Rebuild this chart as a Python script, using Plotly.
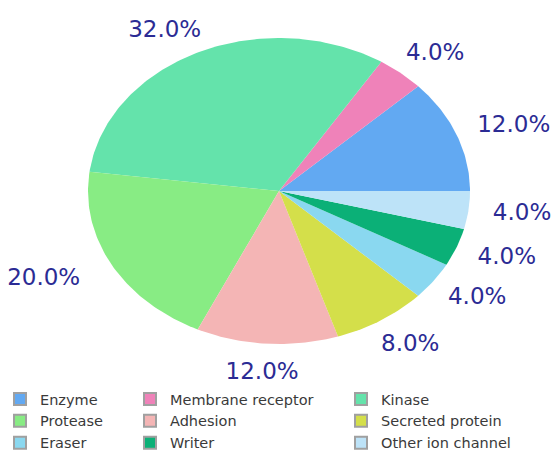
import numpy as np
import plotly.graph_objects as go

categories = ["Enzyme", "Membrane receptor", "Kinase", "Protease", "Adhesion",
              "Secreted protein", "Eraser", "Writer", "Other ion channel"]
percent = [12.0, 4.0, 32.0, 20.0, 12.0, 8.0, 4.0, 4.0, 4.0]
colors = ["#62a9f2", "#ef82b9", "#64e3ab", "#88ec84", "#f4b5b5",
          "#d4df4a", "#8ad8f0", "#0bb077", "#bde3f8"]
# legend column for each category (three column legend, row-major order)
legend_col = ["legend", "legend2", "legend3", "legend", "legend2", "legend3",
              "legend", "legend2", "legend3"]

W, H = 554, 452
CX, CY = 279, 191          # pie centre in pixels
RX, RY = 191, 153          # stretched (elliptical) pie radii
LABEL_COLOR = "#2b2b94"
LABEL_SIZE = 23

fig = go.Figure()

total = sum(percent)
start = 0.0
label_x, label_y, label_t = [], [], []
for name, val, col in zip(categories, percent, colors):
    frac = val / total
    a0 = 2 * np.pi * start
    a1 = 2 * np.pi * (start + frac)
    n = max(int(frac * 400), 8)
    th = np.linspace(a0, a1, n)
    xs = np.concatenate([[0], RX * np.cos(th), [0]])
    ys = np.concatenate([[0], RY * np.sin(th), [0]])
    fig.add_trace(go.Scatter(x=xs, y=ys, mode="lines", fill="toself",
                             fillcolor=col, line=dict(width=0, color=col),
                             hoverinfo="text", text=f"{name}: {val:.1f}%",
                             showlegend=False))
    # outside label
    am = (a0 + a1) / 2
    c, s = np.cos(am), np.sin(am)
    txt = f"{val:.1f}%"
    hw = len(txt) * 7.5
    gx = 24 if c >= 0 else 40
    gy = 24 if s >= 0 else 30
    label_x.append(RX * c + (gx + hw) * c)
    label_y.append(RY * s + gy * s)
    label_t.append(txt)
    start += frac

fig.add_trace(go.Scatter(x=label_x, y=label_y, mode="text", text=label_t,
                         textposition="middle center",
                         textfont=dict(family="DejaVu Sans", size=LABEL_SIZE,
                                       color=LABEL_COLOR),
                         hoverinfo="skip", showlegend=False))

# legend proxies
for name, col, lg in zip(categories, colors, legend_col):
    fig.add_trace(go.Scatter(x=[None], y=[None], mode="markers", name=name,
                             marker=dict(symbol="square", size=13, color=col,
                                         line=dict(color="#a0a0a0", width=1)),
                             legend=lg, showlegend=True))

leg_common = dict(orientation="v", yanchor="top", xanchor="left",
                  bgcolor="rgba(0,0,0,0)", borderwidth=0,
                  font=dict(family="DejaVu Sans", size=14.5, color="#3a3a3a"),
                  itemsizing="constant", tracegroupgap=0)
leg_top = 1 - 383 / H

fig.update_layout(
    width=W, height=H,
    margin=dict(l=0, r=0, t=0, b=0, autoexpand=False),
    paper_bgcolor="white", plot_bgcolor="white",
    xaxis=dict(range=[-CX, W - CX], visible=False, fixedrange=True),
    yaxis=dict(range=[CY - H, CY], visible=False, fixedrange=True),
    legend=dict(x=0 / W, y=leg_top, **leg_common),
    legend2=dict(x=130 / W, y=leg_top, **leg_common),
    legend3=dict(x=341 / W, y=leg_top, **leg_common),
    showlegend=True,
)

fig.write_html("out.html")
